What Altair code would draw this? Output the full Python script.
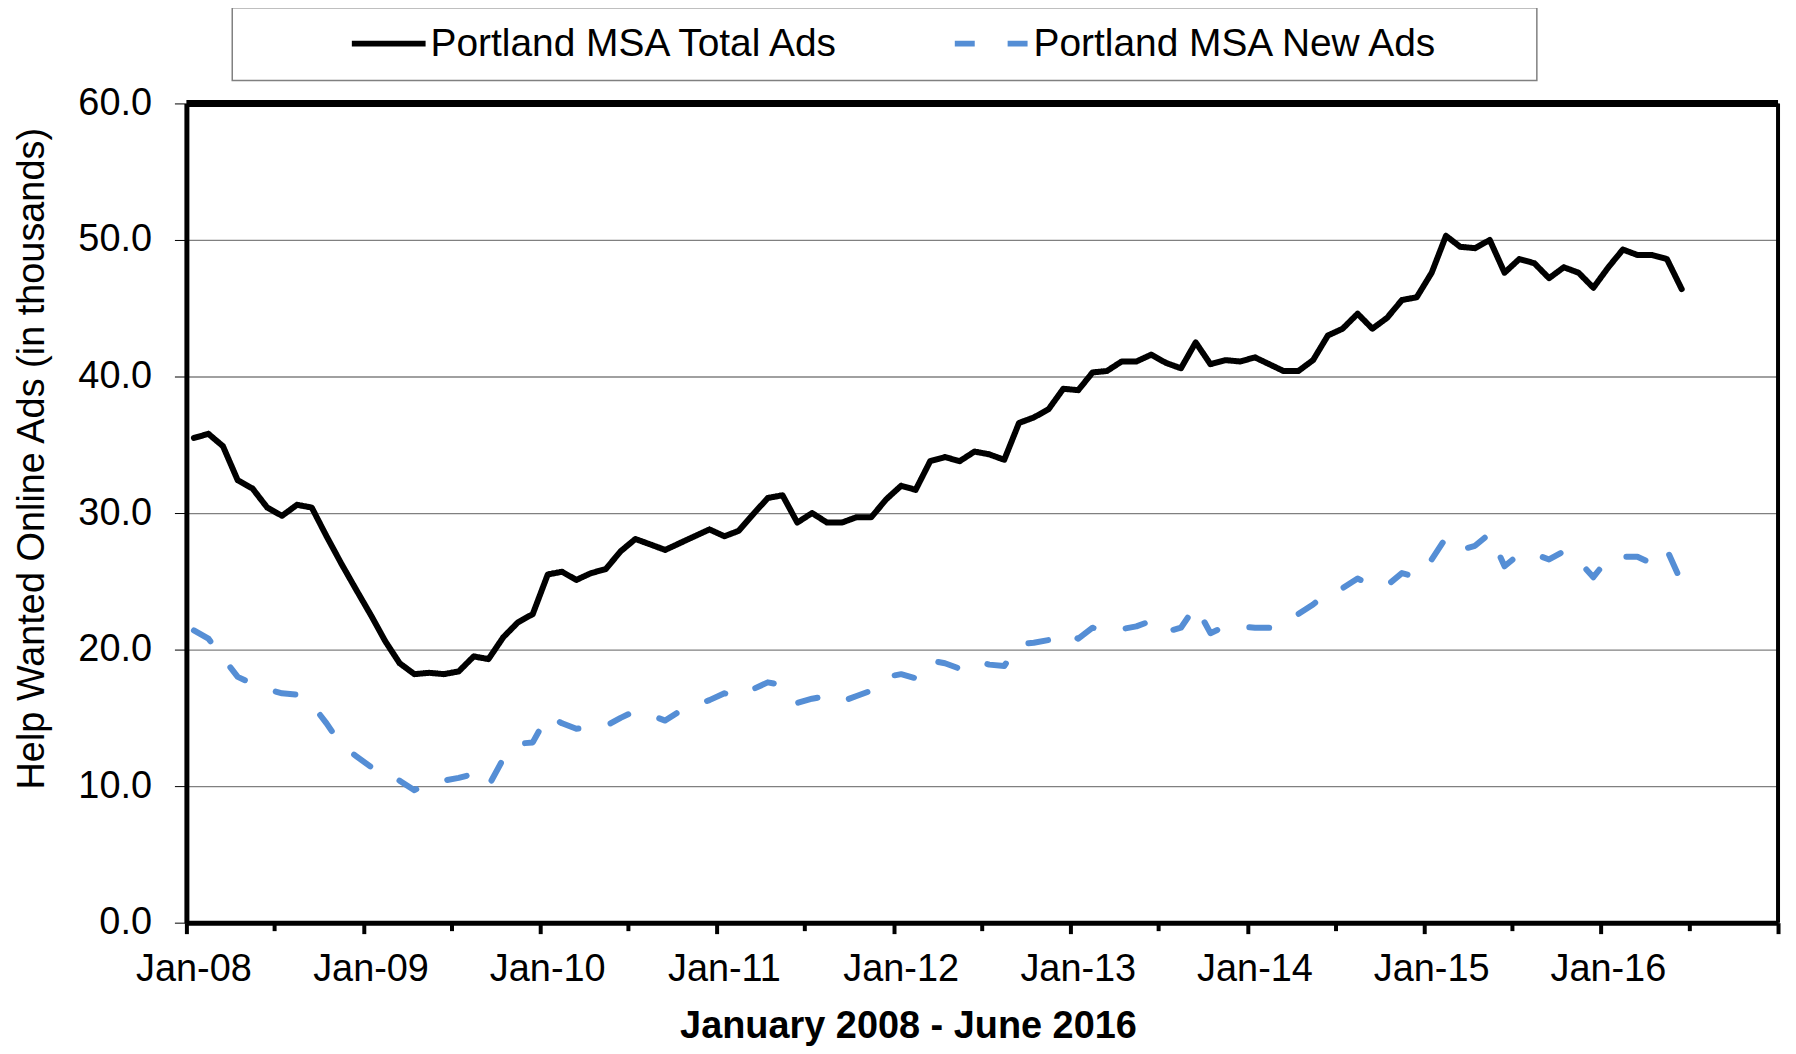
import altair as alt
import pandas as pd

# Monthly observations, January 2008 - June 2016
months = pd.date_range("2008-01-01", periods=102, freq="MS").strftime("%Y-%m-%dT00:00:00").tolist()

total_ads = [
    35.5, 35.8, 34.9, 32.4, 31.8, 30.4, 29.8, 30.6, 30.4, 28.3, 26.3, 24.4,
    22.5, 20.6, 19.0, 18.2, 18.3, 18.2, 18.4, 19.5, 19.3, 20.9, 22.0, 22.6,
    25.5, 25.7, 25.1, 25.6, 25.9, 27.2, 28.1, 27.7, 27.3, 27.8, 28.3, 28.8,
    28.3, 28.7, 29.9, 31.1, 31.3, 29.3, 30.0, 29.3, 29.3, 29.7, 29.7, 31.0,
    32.0, 31.7, 33.8, 34.1, 33.8, 34.5, 34.3, 33.9, 36.6, 37.0, 37.6, 39.1,
    39.0, 40.3, 40.4, 41.1, 41.1, 41.6, 41.0, 40.6, 42.5, 40.9, 41.2, 41.1,
    41.4, 40.9, 40.4, 40.4, 41.2, 43.0, 43.5, 44.6, 43.5, 44.3, 45.6, 45.8,
    47.6, 50.3, 49.5, 49.4, 50.0, 47.6, 48.6, 48.3, 47.2, 48.0, 47.6, 46.5,
    48.0, 49.3, 48.9, 48.9, 48.6, 46.4,
]

new_ads = [
    21.4, 20.8, 19.4, 18.0, 17.5, 17.1, 16.8, 16.7, 16.0, 14.6, 13.0, 12.2,
    11.4, 11.1, 10.4, 9.7, 10.3, 10.4, 10.6, 10.9, 10.0, 12.0, 13.1, 13.2,
    15.2, 14.6, 14.2, 14.3, 14.4, 15.0, 15.5, 15.2, 14.8, 15.5, 15.9, 16.3,
    16.8, 16.5, 17.1, 17.6, 17.4, 16.1, 16.4, 16.6, 16.2, 16.6, 17.0, 18.0,
    18.2, 17.9, 19.2, 19.0, 18.6, 19.2, 18.9, 18.8, 20.4, 20.5, 20.7, 21.3,
    20.8, 21.6, 21.3, 21.5, 21.7, 22.1, 21.3, 21.6, 23.2, 21.2, 21.7, 21.7,
    21.6, 21.6, 21.9, 22.6, 23.3, 24.2, 24.5, 25.2, 24.7, 24.7, 25.6, 25.3,
    26.6, 28.2, 27.3, 27.6, 28.5, 26.1, 27.0, 27.0, 26.6, 27.2, 26.5, 25.3,
    26.7, 26.8, 26.8, 26.3, 27.3, 24.9,
]

series_names = ["Portland MSA Total Ads", "Portland MSA New Ads"]
series_colors = ["#000000", "#558ed5"]
series_dashes = [[1, 0], [20, 33]]
y_ticks = [0, 10, 20, 30, 40, 50, 60]

FONT = "Liberation Sans"
FS = 38
LEG_FS = 39

df = pd.DataFrame({
    "month": months + months,
    "value": total_ads + new_ads,
    "series": [series_names[0]] * len(months) + [series_names[1]] * len(months),
})

x_tick_values = [alt.DateTime(year=y, month=m, date=1) for y in range(2008, 2017) for m in (1, 7)]
x_tick_values.append(alt.DateTime(year=2017, month=1, date=1))

legend = alt.Legend(
    title=None, orient="none", legendX=163, legendY=-100, direction="horizontal",
    symbolType="stroke", symbolSize=5476, symbolStrokeWidth=6,
    labelFont=FONT, labelFontSize=LEG_FS, labelColor="black", labelOffset=2,
    columnPadding=102, padding=0, labelLimit=0,
)

x_scale = alt.Scale(
    domain=[alt.DateTime(year=2008, month=1, date=1), alt.DateTime(year=2017, month=1, date=1)],
    nice=False,
)

lines = alt.Chart(df).mark_line(strokeWidth=6, strokeCap="round", strokeJoin="round").encode(
    x=alt.X(
        "month:T",
        timeUnit="yearmonth",
        bandPosition=0.5,
        scale=x_scale,
        axis=alt.Axis(
            values=x_tick_values,
            labelExpr="month(datum.value) == 0 && year(datum.value) < 2017 ? timeFormat(datum.value, '%b-%y') : ''",
            tickSize={"condition": {"test": "month(datum.value) == 0", "value": 11}, "value": 8},
            tickWidth=4, tickColor="black",
            domainColor="black", domainWidth=5,
            labelFont=FONT, labelFontSize=FS, labelColor="black", labelPadding=17,
            labelOffset=7, labelOverlap=False, labelFlush=False,
            grid=False,
            title="January 2008 - June 2016",
            titleFont=FONT, titleFontSize=FS, titleFontWeight="bold", titleColor="black",
            titleX=724, titleY=115, titleBaseline="alphabetic", titleAlign="center",
        ),
    ),
    y=alt.Y(
        "value:Q",
        scale=alt.Scale(domain=[0, 60], nice=False),
        axis=alt.Axis(
            values=y_ticks, format=".1f",
            tickSize=12, tickWidth=1, tickColor="black",
            domainColor="black", domainWidth=5,
            labelFont=FONT, labelFontSize=FS, labelColor="black", labelPadding=23,
            grid=True, gridColor="#808080", gridWidth=1.3,
            title="Help Wanted Online Ads (in thousands)",
            titleFont=FONT, titleFontSize=FS, titleFontWeight="normal", titleColor="black",
            titleAngle=270, titleX=-143, titleY=356, titleAlign="center", titleBaseline="alphabetic",
        ),
    ),
    color=alt.Color("series:N", scale=alt.Scale(domain=series_names, range=series_colors), legend=legend),
    strokeDash=alt.StrokeDash("series:N", scale=alt.Scale(domain=series_names, range=series_dashes), legend=legend),
)

# thick top edge and right edge of the plot frame (decoration)
top_edge = alt.Chart(pd.DataFrame({"k": [0]})).mark_rule(color="black", strokeWidth=7).encode(
    y=alt.value(0), x=alt.value(0), x2=alt.value(1597),
)
right_edge = alt.Chart(pd.DataFrame({"k": [0]})).mark_rule(color="black", strokeWidth=4).encode(
    x=alt.value(1597), y=alt.value(0), y2=alt.value(822),
)

legend_box = alt.Chart(pd.DataFrame({"k": [0]})).mark_rect(
    filled=False, stroke="#808080", strokeWidth=1.5
).encode(
    x=alt.value(46), x2=alt.value(1355), y=alt.value(-96), y2=alt.value(-23)
)

chart = alt.layer(lines, legend_box, top_edge, right_edge).properties(
    width=1597, height=822,
    autosize=alt.AutoSizeParams(type="none"),
    padding={"left": 179, "top": 94, "right": 10, "bottom": 122},
).configure_view(
    stroke="black", strokeWidth=4
).configure(background="white")

chart.save("out.html", embed_options={"renderer": "svg", "actions": False})
